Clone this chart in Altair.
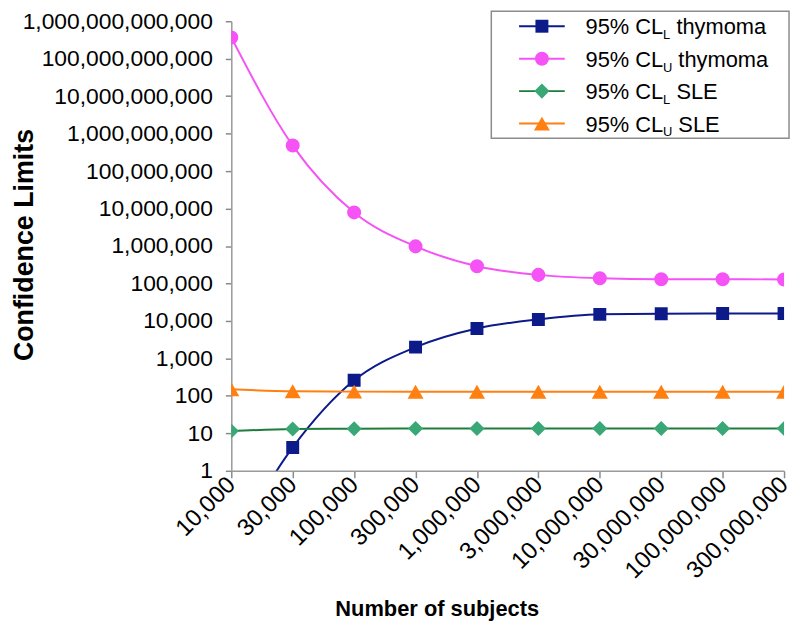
import altair as alt
import pandas as pd

subjects = ["10,000", "30,000", "100,000", "300,000", "1,000,000", "3,000,000",
            "10,000,000", "30,000,000", "100,000,000", "300,000,000"]
cl_l_thymoma = [0.01, 4.2, 260, 2000, 6300, 11000, 15000, 15500, 15800, 15800]
cl_u_thymoma = [3.7e11, 4.8e8, 7.9e6, 9.8e5, 2.9e5, 1.7e5, 1.38e5, 1.3e5, 1.3e5, 1.28e5]
cl_l_sle = [11.5, 13.0, 13.3, 13.5, 13.5, 13.5, 13.5, 13.5, 13.5, 13.5]
cl_u_sle = [150, 133, 130, 129, 129, 129, 129, 129, 129, 129]

series_names = ["L thymoma", "U thymoma", "L SLE", "U SLE"]
series_values = [cl_l_thymoma, cl_u_thymoma, cl_l_sle, cl_u_sle]
legend_sub = ["L", "U", "L", "U"]
legend_tail = ["thymoma", "thymoma", "SLE", "SLE"]

rows = []
for name, vals in zip(series_names, series_values):
    for s, v in zip(subjects, vals):
        rows.append({"subjects": s, "series": name, "value": v})
df = pd.DataFrame(rows)

line_colors = ["#0c1a8a", "#f653f6", "#1e7d3c", "#ff7f10"]
mark_colors = ["#0c1a8a", "#f653f6", "#3aa876", "#ff7f10"]
shapes = ["square", "circle", "diamond", "triangle-up"]
sizes = [170, 260, 190, 220]

stroke_scale = alt.Scale(domain=series_names, range=line_colors)
color_scale = alt.Scale(domain=series_names, range=mark_colors)
shape_scale = alt.Scale(domain=series_names, range=shapes)
size_scale = alt.Scale(domain=series_names, range=sizes)

PLOT_TOP = 11                     # padding top -> plot top at page y 19
PLOT_H = 472 - 8 - PLOT_TOP       # plot bottom at page y 472
PAD_BOTTOM = 616 - PLOT_TOP - PLOT_H

x_enc = alt.X("subjects:N", sort=subjects,
              scale=alt.Scale(type="point", padding=0),
              axis=alt.Axis(title="Number of subjects", labelAngle=-45,
                            labelAlign="right", labelBaseline="middle",
                            labelFontSize=24, labelPadding=3, labelLimit=0,
                            titleFontSize=22, titleFontWeight="bold",
                            titleX=207, titleY=146, titleAlign="center",
                            titleBaseline="alphabetic"))
y_enc = alt.Y("value:Q",
              scale=alt.Scale(type="log", domain=[1, 1e12], nice=False),
              axis=alt.Axis(title="Confidence Limits",
                            values=[10 ** i for i in range(13)], format=",.0f",
                            labelFontSize=23, labelPadding=13, tickSize=6,
                            labelLimit=0,
                            titleFontSize=27, titleFontWeight="bold",
                            titleX=-200, titleY=225, titleAngle=270,
                            titleAlign="center", titleBaseline="alphabetic"))

lines = alt.Chart(df).mark_line(interpolate="monotone", strokeWidth=2, clip=True).encode(
    x=x_enc, y=y_enc,
    stroke=alt.Stroke("series:N", scale=stroke_scale, legend=None),
    detail="series:N",
)
points = alt.Chart(df).mark_point(filled=True, opacity=1, clip=True).encode(
    x=x_enc, y=y_enc,
    color=alt.Color("series:N", scale=color_scale, legend=None),
    shape=alt.Shape("series:N", scale=shape_scale, legend=None),
    size=alt.Size("series:N", scale=size_scale, legend=None),
)

# custom legend (with subscripts); positions in plot pixels
main_w = 78
sub_font = 13
top0 = 24 - 8 - PLOT_TOP
leg = pd.DataFrame({
    "series": series_names,
    "row": [0, 1, 2, 3],
    "main": ["95% CL"] * 4,
    "sub": legend_sub,
    "tail": legend_tail,
    "subw": [7.5 if s == "L" else 9.5 for s in legend_sub],
})
leg_base = alt.Chart(leg).transform_calculate(
    cy=f"{top0} + 32.7 * datum.row",
    ty=f"{top0} + 32.7 * datum.row + 8",
    sy=f"{top0} + 32.7 * datum.row + 13",
    tx=f"357 + {main_w} + datum.subw + 6",
)
box = alt.Chart(alt.Data(values=[{"a": 1}])).mark_rect(
    fill="white", stroke="#8c8c8c", strokeWidth=1.5
).encode(x=alt.value(262), x2=alt.value(562),
         y=alt.value(8 - 8 - PLOT_TOP + 1), y2=alt.value(137 - 8 - PLOT_TOP))
leg_lines = leg_base.mark_rule(strokeWidth=2).encode(
    x=alt.value(290), x2=alt.value(336),
    y=alt.Y("cy:Q", scale=None),
    stroke=alt.Stroke("series:N", scale=stroke_scale, legend=None),
)
leg_points = leg_base.mark_point(filled=True, opacity=1).encode(
    x=alt.value(313),
    y=alt.Y("cy:Q", scale=None),
    color=alt.Color("series:N", scale=color_scale, legend=None),
    shape=alt.Shape("series:N", scale=shape_scale, legend=None),
    size=alt.Size("series:N", scale=size_scale, legend=None),
)
leg_main = leg_base.mark_text(align="left", baseline="alphabetic", fontSize=22,
                              font="Liberation Sans", color="black").encode(
    x=alt.value(357), y=alt.Y("ty:Q", scale=None), text="main:N")
leg_sub = leg_base.mark_text(align="left", baseline="alphabetic", fontSize=sub_font,
                             font="Liberation Sans", color="black").encode(
    x=alt.value(357 + main_w), y=alt.Y("sy:Q", scale=None), text="sub:N")
leg_tail = leg_base.mark_text(align="left", baseline="alphabetic", fontSize=22,
                              font="Liberation Sans", color="black").encode(
    x=alt.X("tx:Q", scale=None), y=alt.Y("ty:Q", scale=None), text="tail:N")

chart = alt.layer(lines, points, box, leg_lines, leg_points, leg_main, leg_sub, leg_tail).properties(
    width=557, height=PLOT_H,
    autosize=alt.AutoSizeParams(type="none"),
    padding={"left": 225, "top": PLOT_TOP, "right": 8, "bottom": PAD_BOTTOM},
).configure_view(stroke=None).configure_axis(
    grid=False, domainColor="#9a9a9a", domainWidth=1.5, tickColor="#8a8a8a",
    tickSize=7, tickWidth=1.5, labelColor="black", titleColor="black",
    labelFont="Liberation Sans", titleFont="Liberation Sans",
)

chart.save("out.html", embed_options={"renderer": "svg", "actions": False})
